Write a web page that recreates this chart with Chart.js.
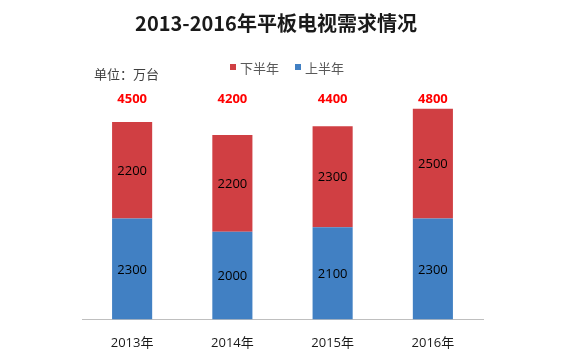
<!DOCTYPE html>
<html>
<head>
<meta charset="utf-8">
<script src="https://cdn.jsdelivr.net/npm/chart.js@4"></script>
<style>
html,body{margin:0;padding:0;background:#fff;}
#wrap{width:580px;height:363px;position:relative;}
</style>
</head>
<body>
<div id="wrap"><canvas id="c" width="580" height="363"></canvas></div>
<script>
const titleText = '2013-2016年平板电视需求情况';
const unitText = '单位：万台';
const categories = ['2013年', '2014年', '2015年', '2016年'];
const firstHalf = [2300, 2000, 2100, 2300];
const secondHalf = [2200, 2200, 2300, 2500];
const seriesNames = ['上半年', '下半年'];

const BLUE = '#4180C3';
const RED = '#D03F43';
const NUMFONT = "'Open Sans','Noto Sans CJK SC',sans-serif";
const CJK = "'Noto Sans CJK SC','Open Sans',sans-serif";

const decor = {
  id: 'decor',
  afterDatasetsDraw(chart) {
    const ctx = chart.ctx;
    const x = chart.scales.x;
    ctx.save();
    ctx.fillStyle = '#000';
    ctx.font = '13px ' + NUMFONT;
    ctx.textAlign = 'center';
    ctx.textBaseline = 'middle';
    chart.data.datasets.forEach((ds, di) => {
      const meta = chart.getDatasetMeta(di);
      meta.data.forEach((bar, i) => {
        const p = bar.getProps(['x', 'y', 'base'], true);
        ctx.fillText(String(ds.data[i]), p.x, (p.y + p.base) / 2 + 1);
      });
    });
    ctx.fillStyle = '#FF0000';
    ctx.font = 'bold 13px ' + NUMFONT;
    categories.forEach((c, i) => {
      const total = firstHalf[i] + secondHalf[i];
      ctx.fillText(String(total), x.getPixelForValue(i), 99);
    });
    ctx.restore();
  },
  afterDraw(chart) {
    const ctx = chart.ctx;
    ctx.save();
    ctx.fillStyle = '#1a1a1a';
    ctx.font = 'bold 20px ' + CJK;
    ctx.textAlign = 'center';
    ctx.textBaseline = 'middle';
    ctx.fillText(titleText, 276, 23);
    ctx.fillStyle = '#404040';
    ctx.font = '13px ' + CJK;
    ctx.textAlign = 'left';
    ctx.fillText(unitText, 94, 74);
    const items = [
      {label: seriesNames[1], color: RED, x: 230},
      {label: seriesNames[0], color: BLUE, x: 295}
    ];
    items.forEach(it => {
      ctx.fillStyle = it.color;
      ctx.fillRect(it.x, 64, 6, 6);
      ctx.fillStyle = '#595959';
      ctx.font = '13px ' + CJK;
      ctx.fillText(it.label, it.x + 10, 68);
    });
    ctx.restore();
  }
};

new Chart(document.getElementById('c'), {
  type: 'bar',
  data: {
    labels: categories,
    datasets: [
      {label: seriesNames[0], data: firstHalf, backgroundColor: BLUE, borderWidth: 0},
      {label: seriesNames[1], data: secondHalf, backgroundColor: RED, borderWidth: 0}
    ]
  },
  options: {
    responsive: false,
    animation: false,
    layout: {padding: {top: 100, left: 82, right: 97, bottom: -4}},
    datasets: {bar: {barPercentage: 0.4, categoryPercentage: 1}},
    plugins: {legend: {display: false}, title: {display: false}, tooltip: {enabled: false}},
    scales: {
      x: {
        stacked: true,
        grid: {display: false, drawTicks: false},
        border: {display: true, color: '#BFBFBF', width: 1},
        ticks: {padding: 16, color: '#1a1a1a', font: {size: 13, family: NUMFONT}}
      },
      y: {
        stacked: true,
        display: false,
        min: 0,
        max: 5000
      }
    }
  },
  plugins: [decor]
});
</script>
</body>
</html>
